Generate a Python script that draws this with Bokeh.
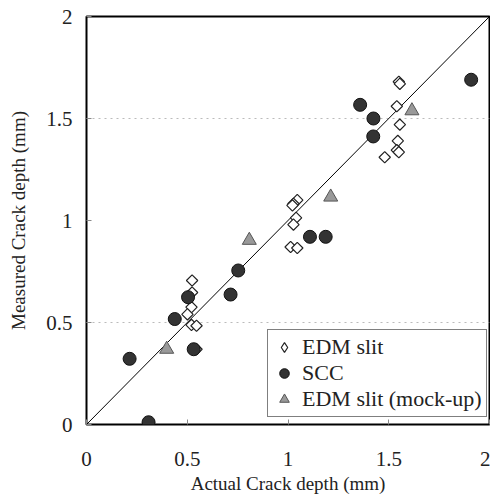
import math
from bokeh.plotting import figure
from bokeh.models import Range1d, FixedTicker, Legend, LegendItem
from bokeh.embed import file_html
from bokeh.resources import INLINE

# ---- data ----
edm_x = [1.55, 1.555, 1.54, 1.555, 1.545, 1.54, 1.55, 1.48,
         1.046, 1.027, 1.022, 1.04, 1.027, 1.013, 1.046,
         0.524, 0.524, 0.521, 0.501, 0.521, 0.546, 0.546]
edm_y = [1.68, 1.67, 1.56, 1.47, 1.39, 1.345, 1.335, 1.31,
         1.10, 1.082, 1.074, 1.013, 0.98, 0.87, 0.865,
         0.706, 0.647, 0.575, 0.54, 0.488, 0.484, 0.369]

scc_x = [1.358, 1.424, 1.423, 1.909, 1.109, 1.187, 0.753, 0.715,
         0.504, 0.438, 0.532, 0.214, 0.308]
scc_y = [1.567, 1.50, 1.412, 1.69, 0.92, 0.92, 0.755, 0.637,
         0.624, 0.517, 0.369, 0.322, 0.011]

mock_x = [1.615, 1.212, 0.808, 0.398]
mock_y = [1.538, 1.115, 0.903, 0.369]

diag = [0, 2]
ticks = [0, 0.5, 1, 1.5, 2]
tick_labels = {0: "0", 0.5: "0.5", 1: "1", 1.5: "1.5", 2: "2"}
grid_ticks = [0.5, 1.5]

FONT = "Liberation Serif"

p = figure(width=490, height=497, output_backend="svg", toolbar_location=None,
           x_range=Range1d(0, 2), y_range=Range1d(0, 2),
           min_border_left=86, min_border_right=1, min_border_top=16,
           min_border_bottom=73)

p.outline_line_color = "black"
p.outline_line_width = 2
p.background_fill_color = "white"
p.border_fill_color = "white"

p.xgrid.visible = False
p.ygrid.ticker = FixedTicker(ticks=grid_ticks)
p.ygrid.grid_line_color = "#bbbbbb"
p.ygrid.grid_line_dash = "2 4"
p.ygrid.grid_line_width = 1

for ax in (p.xaxis[0], p.yaxis[0]):
    ax.ticker = FixedTicker(ticks=ticks)
    ax.major_label_overrides = tick_labels
    ax.axis_line_color = None
    ax.major_tick_in = 5
    ax.major_tick_out = 0
    ax.major_tick_line_color = "#888888"
    ax.minor_tick_line_color = None
    ax.major_label_text_font = FONT
    ax.major_label_text_font_size = "21px"
    ax.major_label_text_color = "#222222"
    ax.axis_label_text_font = FONT
    ax.axis_label_text_font_size = "19px"
    ax.axis_label_text_font_style = "normal"
    ax.axis_label_text_color = "#222222"

p.xaxis.axis_label = "Actual Crack depth (mm)"
p.yaxis.axis_label = "Measured Crack depth (mm)"
p.xaxis.major_label_standoff = 27
p.xaxis.axis_label_standoff = 4
p.yaxis.major_label_standoff = 14
p.yaxis.axis_label_standoff = 14

p.line(diag, diag, line_color="black", line_width=1)

p.scatter(edm_x, edm_y, marker="square", size=8, angle=math.pi / 4,
          fill_color="white", line_color="#222222", line_width=1.2)
r_edm_key = p.scatter(edm_x, edm_y, marker="diamond", size=14, visible=False,
                      fill_color="white", line_color="#222222", line_width=1.2)
r_scc = p.scatter(scc_x, scc_y, marker="circle", size=13,
                  fill_color="#333333", line_color="#111111", line_width=1)
r_mock = p.scatter(mock_x, mock_y, marker="triangle", size=14,
                   fill_color="#999999", line_color="#555555", line_width=1)

legend = Legend(items=[LegendItem(label="EDM slit", renderers=[r_edm_key]),
                       LegendItem(label="SCC", renderers=[r_scc]),
                       LegendItem(label="EDM slit (mock-up)", renderers=[r_mock])],
                location=(181, 7))
legend.label_text_font = FONT
legend.label_text_font_size = "22px"
legend.label_text_color = "#222222"
legend.border_line_color = "black"
legend.border_line_width = 1.5
legend.background_fill_alpha = 1
legend.margin = 0
legend.padding = 4
legend.spacing = 0
legend.glyph_width = 24
legend.glyph_height = 24
legend.label_height = 24
legend.label_standoff = 6
p.add_layout(legend)

open("out.html", "w").write(file_html(p, INLINE))
